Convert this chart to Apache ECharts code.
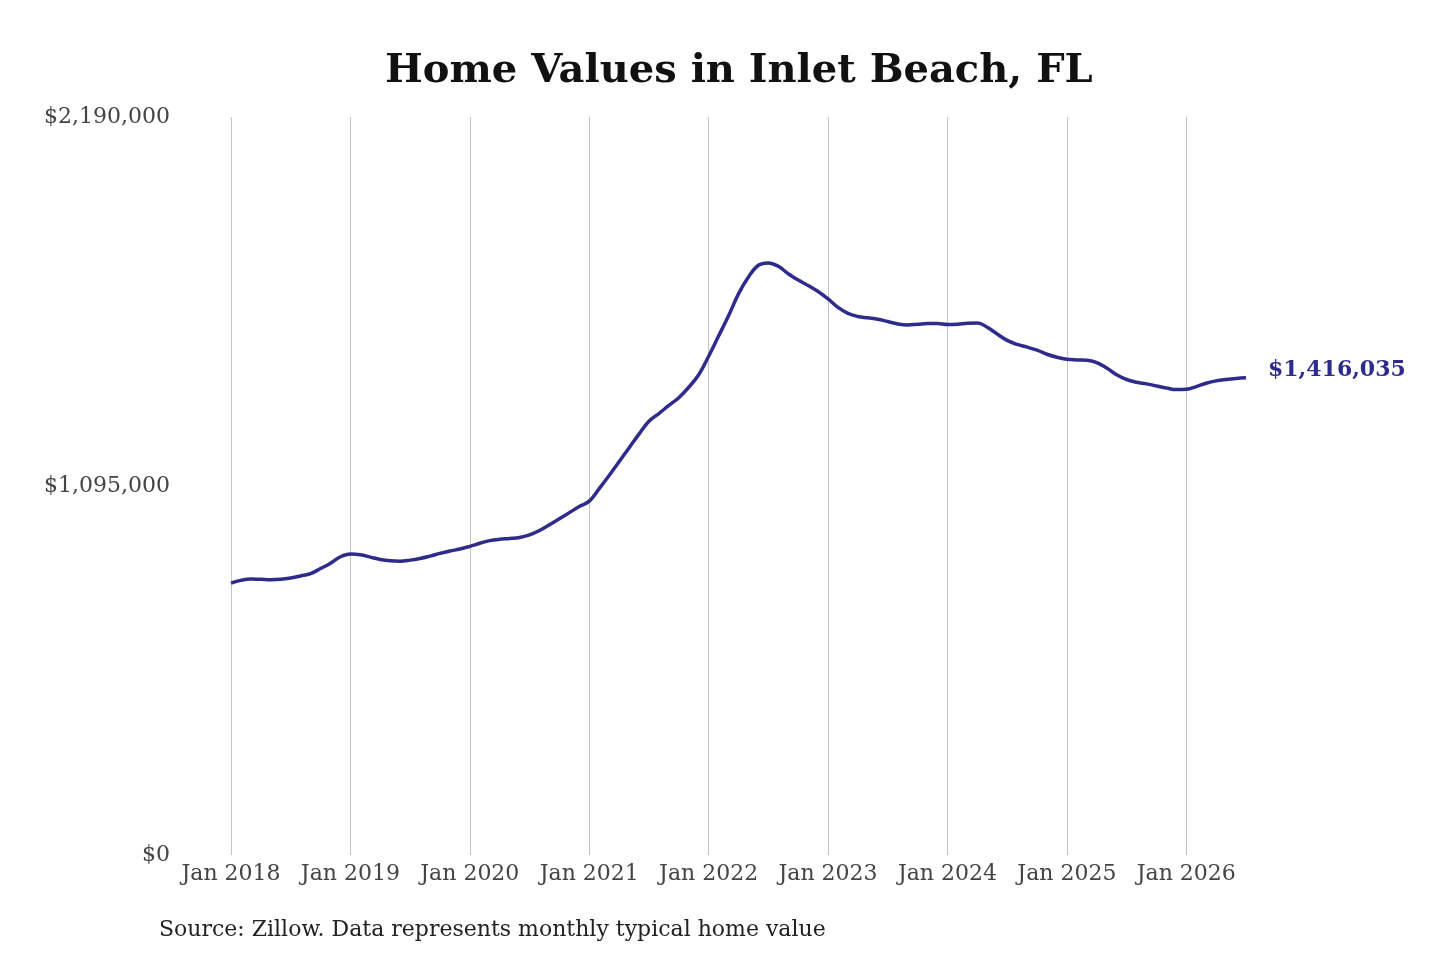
<!DOCTYPE html>
<html>
<head>
<meta charset="utf-8">
<script src="https://cdn.jsdelivr.net/npm/echarts@6/dist/echarts.min.js"></script>
<style>
html,body{margin:0;padding:0;background:#fff;}
#chart{width:1440px;height:960px;}
</style>
</head>
<body>
<div id="chart"></div>
<script>
var titleText = "Home Values in Inlet Beach, FL";
var sourceText = "Source: Zillow. Data represents monthly typical home value";
var monthNames = ["Jan","Feb","Mar","Apr","May","Jun","Jul","Aug","Sep","Oct","Nov","Dec"];
var years = [2018, 2019, 2020, 2021, 2022, 2023, 2024, 2025, 2026];
var yTicks = [0, 1095000, 2190000];

var v2018 = [807000, 815000, 819000, 818000, 817000, 818000, 822000, 828000, 835000, 850000, 866000, 885000];
var v2019 = [893000, 891000, 884000, 877000, 873000, 872000, 875000, 880000, 887000, 895000, 902000, 908000];
var v2020 = [916000, 925000, 933000, 937000, 939000, 942000, 950000, 963000, 980000, 998000, 1016000, 1034000];
var v2021 = [1050000, 1087000, 1126000, 1167000, 1208000, 1249000, 1287000, 1310000, 1334000, 1357000, 1388000, 1425000];
var v2022 = [1480000, 1540000, 1600000, 1665000, 1715000, 1750000, 1757000, 1747000, 1725000, 1706000, 1690000, 1672000];
var v2023 = [1650000, 1625000, 1607000, 1598000, 1594000, 1590000, 1583000, 1576000, 1573000, 1575000, 1577000, 1577000];
var v2024 = [1574000, 1575000, 1578000, 1579000, 1566000, 1546000, 1527000, 1515000, 1507000, 1498000, 1486000, 1477000];
var v2025 = [1471000, 1469000, 1468000, 1461000, 1445000, 1425000, 1411000, 1403000, 1398000, 1392000, 1386000, 1381000];
var v2026 = [1382000, 1390000, 1400000, 1407000, 1411000, 1414000, 1416035];

var values = [].concat(v2018, v2019, v2020, v2021, v2022, v2023, v2024, v2025, v2026);
var categories = [];
for (var yi = 0; yi < years.length; yi++) {
  for (var m = 0; m < 12; m++) {
    if (categories.length < values.length) categories.push(monthNames[m] + " " + years[yi]);
  }
}

function fmtMoney(v) {
  return "$" + Math.round(v).toString().replace(/\B(?=(\d{3})+(?!\d))/g, ",");
}

var chart = echarts.init(document.getElementById('chart'));
var serif = "'DejaVu Serif', serif";
chart.setOption({
  backgroundColor: '#ffffff',
  animation: false,
  title: {
    text: titleText,
    left: 380,
    top: 47,
    textStyle: { fontFamily: serif, fontWeight: 'bold', fontSize: 40, color: '#111111' }
  },
  graphic: [{
    type: 'text',
    left: 159,
    top: 919,
    style: { text: sourceText, fontFamily: serif, fontSize: 22, fill: '#222222' }
  }],
  grid: { left: 231, right: 194, top: 117, bottom: 105, containLabel: false },
  xAxis: {
    type: 'category',
    data: categories,
    boundaryGap: false,
    axisLine: { show: false },
    axisTick: { show: false },
    axisLabel: {
      interval: function (i, v) { return v.indexOf('Jan') === 0; },
      fontFamily: serif, fontSize: 22, color: '#444444', margin: 8
    },
    splitLine: {
      show: true,
      interval: function (i, v) { return v.indexOf('Jan') === 0; },
      lineStyle: { color: '#c4c4c4', width: 1 }
    }
  },
  yAxis: {
    type: 'value',
    min: yTicks[0],
    max: yTicks[2],
    interval: yTicks[1],
    axisLine: { show: false },
    axisTick: { show: false },
    splitLine: { show: false },
    axisLabel: {
      formatter: function (v) { return fmtMoney(v); },
      fontFamily: serif, fontSize: 22, color: '#444444', margin: 61
    }
  },
  series: [{
    type: 'line',
    data: values,
    smooth: 0.4,
    showSymbol: false,
    lineStyle: { color: '#2f2b8c', width: 3.5 },
    endLabel: {
      show: true,
      formatter: function (p) { return fmtMoney(p.value); },
      fontFamily: serif, fontWeight: 'bold', fontSize: 22, color: '#2f2b8c',
      distance: 22, offset: [0, -8]
    }
  }]
});
</script>
</body>
</html>
